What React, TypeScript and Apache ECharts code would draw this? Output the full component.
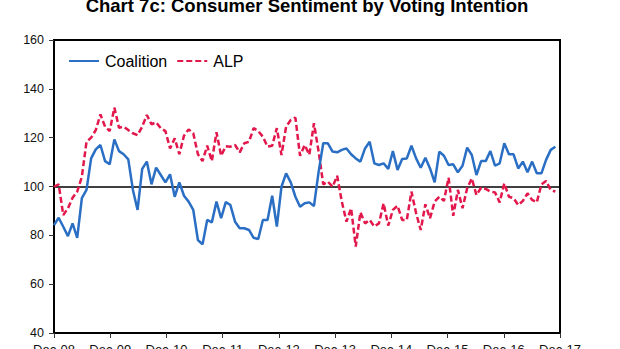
import React, { useEffect, useRef } from "react";
import * as echarts from "echarts";

const titleText = "Chart 7c: Consumer Sentiment by Voting Intention";
const xTickLabels = ["Dec-08", "Dec-09", "Dec-10", "Dec-11", "Dec-12", "Dec-13", "Dec-14", "Dec-15", "Dec-16", "Dec-17"];
const yTicks = { min: 40, max: 160, interval: 20 };

// monthly values, Dec-08 .. Dec-17
const coalition = [
  84.2, 87.2, 83.5, 79.7, 84.9, 79, 95.2, 98.6, 111.5, 115.2, 117, 110.4,
  109.1, 119.3, 114.5, 113.2, 111.1, 98.6, 90.4, 107.2, 110.2, 100.9, 107.7, 104.7,
  101.7, 105, 95.8, 101.7, 96.2, 93.8, 90.4, 78.1, 76.3, 86.3, 85.3, 93.8,
  87, 93.6, 92.4, 85.6, 82.9, 82.9, 82.2, 79, 78.5, 86.3, 86.3, 96.2,
  83.6, 99.9, 105.4, 101.7, 95.8, 91.7, 93.1, 93.5, 92, 106, 117.7, 117.7,
  114.3, 114, 115, 115.6, 113.2, 111.5, 110.2, 115.6, 118.3, 109.5, 108.8, 109.5,
  107.2, 114.5, 106.8, 111.3, 111.5, 116.7, 111.5, 107.7, 111.8, 107.4, 101.7, 114.3,
  112.6, 108.8, 109.1, 105.8, 108.5, 115.9, 112.9, 104.7, 110.4, 110.4, 114.5, 108.5,
  109.5, 117.7, 113.2, 113.2, 107.4, 110.2, 105.8, 110.2, 105.4, 105.4, 110.9, 115,
  116.3,
];
const alp = [
  99.9, 100.9, 88.3, 91.1, 95.4, 97.9, 104, 118.3, 120, 123.1, 129.5, 124.5,
  122.7, 132.3, 124.1, 124.5, 123.1, 121.8, 121, 124.5, 129.3, 125.5, 126.3, 123.9,
  122.7, 115.6, 119.7, 113.2, 120.8, 123.4, 121.8, 113.2, 110.4, 116.7, 110.4, 122.2,
  112.6, 116.5, 116.3, 117, 114, 117.7, 118.3, 123.9, 122.7, 120.4, 116.3, 116.7,
  123.9, 112.9, 124.5, 127.2, 128.2, 112.6, 117, 113, 125.9, 114.3, 100.9, 102,
  99.9, 104.4, 93.8, 85.6, 91.1, 75.4, 89.4, 84.9, 86.3, 83.6, 84.9, 93.1,
  84, 90.4, 92.1, 86.3, 86.3, 97.9, 89.1, 82.2, 92.7, 87, 93.8, 95.8,
  94.1, 103.6, 88, 98.6, 91.1, 99.3, 103.3, 96.5, 99.5, 99, 97.9, 97.6,
  93.5, 101.3, 95.8, 95.2, 92.4, 94.1, 97.2, 94.5, 93.5, 100.9, 102.3, 98.6,
  97.9,
];
const referenceLevel = 100;

const FONT = "Liberation Sans, Arial, sans-serif";

export default function App() {
  const ref = useRef<HTMLDivElement>(null);
  useEffect(() => {
    if (!ref.current) return;
    const chart = echarts.init(ref.current, null, { renderer: "svg" });
    const n = coalition.length; // 109 months
    const xMax = n;
    const step = xMax / (xTickLabels.length - 1);
    chart.setOption({
      animation: false,
      backgroundColor: "#fff",
      textStyle: { fontFamily: FONT },
      graphic: [
        {
          type: "text",
          x: 307,
          y: 5,
          style: {
            text: titleText,
            font: "bold 18.5px " + FONT,
            fill: "#000",
            textAlign: "center",
            textVerticalAlign: "middle",
          },
        },
      ],
      legend: {
        left: 68,
        top: 53,
        padding: 0,
        itemWidth: 30,
        itemHeight: 14,
        itemGap: 9,
        itemStyle: { opacity: 0 },
        textStyle: { fontSize: 16, color: "#000", fontFamily: FONT, padding: [0, 0, 0, 1] },
        data: ["Coalition", "ALP"],
      },
      grid: {
        left: 54,
        right: 60,
        top: 40,
        bottom: 16,
        show: true,
        borderColor: "#000",
        borderWidth: 2,
        backgroundColor: "transparent",
        outerBoundsMode: "none",
        containLabel: false,
      },
      xAxis: {
        type: "value",
        min: 0,
        max: xMax,
        interval: step,
        axisLine: { show: true, lineStyle: { color: "#000", width: 2 } },
        axisTick: { show: true, length: 5, lineStyle: { color: "#333", width: 1 } },
        splitLine: { show: false },
        axisLabel: {
          fontSize: 13,
          color: "#111",
          margin: 10,
          fontFamily: FONT,
          hideOverlap: false,
          formatter: (v: number) => xTickLabels[Math.round(v / step)] ?? "",
        },
      },
      yAxis: {
        type: "value",
        min: yTicks.min,
        max: yTicks.max,
        interval: yTicks.interval,
        axisLine: { show: true, lineStyle: { color: "#000", width: 2 } },
        axisTick: { show: true, length: 5, lineStyle: { color: "#333", width: 1 } },
        splitLine: { show: false },
        axisLabel: { fontSize: 12.5, color: "#111", margin: 10, fontFamily: FONT },
      },
      series: [
        {
          name: "Coalition",
          type: "line",
          data: coalition.map((v, i) => [i, v]),
          symbol: "none",
          color: "#2a6fc4",
          lineStyle: { color: "#2a6fc4", width: 2.5 },
          z: 3,
          markLine: {
            silent: true,
            symbol: "none",
            label: { show: false },
            lineStyle: { color: "#000", width: 1.5, type: "solid" },
            data: [{ yAxis: referenceLevel }],
            z: 1,
          },
        },
        {
          name: "ALP",
          type: "line",
          data: alp.map((v, i) => [i, v]),
          symbol: "none",
          color: "#e2174b",
          lineStyle: { color: "#e2174b", width: 2.5, type: [6, 3] },
          z: 2,
        },
      ],
    });
    return () => chart.dispose();
  }, []);
  return (
    <div
      ref={ref}
      style={{ position: "absolute", left: 0, top: 0, width: 620, height: 349 }}
    />
  );
}
